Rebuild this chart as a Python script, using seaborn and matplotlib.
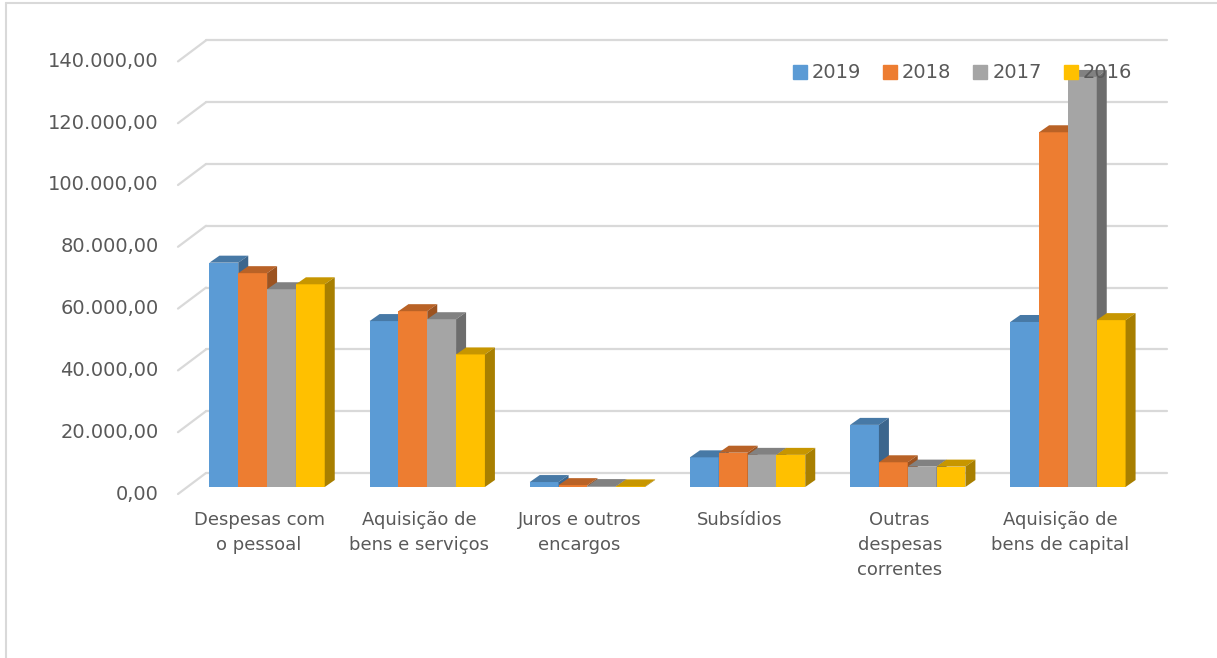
import numpy as np
import pandas as pd
import seaborn as sns
from matplotlib import pyplot as plt
from matplotlib.lines import Line2D
from matplotlib.patches import Polygon
from matplotlib.transforms import ScaledTranslation
from matplotlib.colors import to_rgb

# Datos (euros)
categorias = ["Despesas com\no pessoal", "Aquisição de\nbens e serviços", "Juros e outros\nencargos",
              "Subsídios", "Outras\ndespesas\ncorrentes", "Aquisição de\nbens de capital"]
anos = ["2019", "2018", "2017", "2016"]
valores_2019 = [72600, 53700, 1600, 9600, 20100, 53400]
valores_2018 = [69200, 56900, 600, 11100, 8000, 114800]
valores_2017 = [64000, 54300, 300, 10400, 6600, 132700]
valores_2016 = [65600, 42900, 200, 10400, 6600, 54000]
colores = ["#5B9BD5", "#ED7D31", "#A5A5A5", "#FFC000"]
ticks_y = [0, 20000, 40000, 60000, 80000, 100000, 120000, 140000]

df = pd.DataFrame({
    "categoria": categorias * 4,
    "ano": np.repeat(anos, len(categorias)),
    "valor": valores_2019 + valores_2018 + valores_2017 + valores_2016,
})

sns.set_theme(style="white")
plt.rcParams["font.family"] = ["DejaVu Sans"]
gris_texto = "#595959"
gris_linea = "#d9d9d9"

W, H = 1217, 658
fig = plt.figure(figsize=(W / 100, H / 100), dpi=100)
# plano frontal de las barras (en pixeles)
izq, der, base, techo = 187, 1148, 487, 54.4
ax = fig.add_axes([izq / W, 1 - base / H, (der - izq) / W, (base - techo) / H])

sns.barplot(data=df, x="categoria", y="valor", hue="ano", hue_order=anos, palette=colores,
            width=0.72, errorbar=None, linewidth=0, saturation=1, ax=ax, legend=False)

ax.set_xlim(-0.5, 5.5)
ax.set_ylim(0, 140000)
sns.despine(ax=ax, left=True, bottom=True)
ax.set_xlabel("")
ax.set_ylabel("")

# unidades de datos por pixel
px_x = 6 / (der - izq)
px_y = 140000 / (base - techo)

# pared del fondo: lineas de la cuadricula desplazadas
fx, fy = 19, 14   # hacia el fondo
px_f, py_f = -9, -7  # hacia el frente
for v in ticks_y:
    ax.plot([-0.5 + fx * px_x, 5.5 + fx * px_x], [v + fy * px_y, v + fy * px_y],
            color=gris_linea, lw=1.6, clip_on=False, zorder=1)
    ax.plot([-0.5 + px_f * px_x, -0.5 + fx * px_x], [v + py_f * px_y, v + fy * px_y],
            color=gris_linea, lw=1.6, clip_on=False, zorder=1)

# efecto 3D: tapa superior y lateral de cada barra
dx, dy = 10 * px_x, 7 * px_y
barras = sorted(ax.patches, key=lambda p: p.get_x())
for k, p in enumerate(barras):
    x0 = p.get_x()
    x1 = x0 + p.get_width()
    h = p.get_height()
    c = np.array(to_rgb(p.get_facecolor()))
    z = 3 + k * 0.01
    p.set_zorder(z)
    tapa = Polygon([(x0, h), (x1, h), (x1 + dx, h + dy), (x0 + dx, h + dy)],
                   closed=True, facecolor=c * 0.78, edgecolor="none", zorder=z + 0.005, clip_on=False)
    lado = Polygon([(x1, 0), (x1, h), (x1 + dx, h + dy), (x1 + dx, dy)],
                   closed=True, facecolor=c * 0.66, edgecolor="none", zorder=z + 0.005, clip_on=False)
    ax.add_patch(tapa)
    ax.add_patch(lado)

# etiquetas de los ejes
ax.set_yticks(ticks_y)
ax.set_yticklabels([f"{v:,.2f}".replace(",", "X").replace(".", ",").replace("X", ".") for v in ticks_y])
ax.tick_params(axis="y", length=0, pad=20.5, labelsize=14, labelcolor=gris_texto)
ax.tick_params(axis="x", length=0, pad=17, labelsize=13, labelcolor=gris_texto)
for lab in ax.get_yticklabels():
    lab.set_transform(lab.get_transform() + ScaledTranslation(0, -5 / 100, fig.dpi_scale_trans))
for lab in ax.get_xticklabels():
    lab.set_transform(lab.get_transform() + ScaledTranslation(-8 / 100, 0, fig.dpi_scale_trans))
    lab.set_linespacing(1.5)
    lab.set_verticalalignment("top")
ax.grid(False)

# leyenda
handles = [Line2D([], [], marker="s", linestyle="", markersize=10.5, color=c) for c in colores]
ax.legend(handles, anos, ncol=4, loc="center", bbox_to_anchor=(962 / W, 1 - 73 / H),
          bbox_transform=fig.transFigure, frameon=False, fontsize=14, labelcolor=gris_texto,
          handlelength=0.8, handletextpad=0.2, columnspacing=1.1)

# borde del area del grafico
fig.add_artist(Line2D([6 / W, 6 / W], [0, 1 - 3 / H], transform=fig.transFigure, color=gris_linea, lw=1.5))
fig.add_artist(Line2D([6 / W, 1], [1 - 3 / H, 1 - 3 / H], transform=fig.transFigure, color=gris_linea, lw=1.5))

fig.savefig("out.png", dpi=100)
